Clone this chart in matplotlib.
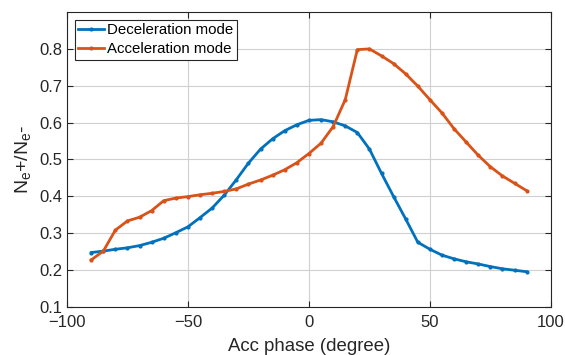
import numpy as np
import matplotlib
matplotlib.use("Agg")
import matplotlib.pyplot as plt

plt.rcParams['font.family'] = ['Liberation Sans', 'DejaVu Sans']
plt.rcParams['mathtext.fontset'] = 'custom'
plt.rcParams['mathtext.rm'] = 'Liberation Sans'
plt.rcParams['mathtext.it'] = 'Liberation Sans'

# acc phase in degrees, 5 degree steps
phase = list(range(-90, 95, 5))

decel = [0.247, 0.251, 0.256, 0.260, 0.266, 0.275, 0.286, 0.301, 0.317,
         0.342, 0.368, 0.403, 0.445, 0.490, 0.528, 0.556, 0.578, 0.594,
         0.606, 0.608, 0.602, 0.591, 0.573, 0.528, 0.462, 0.399, 0.338,
         0.275, 0.256, 0.240, 0.230, 0.222, 0.216, 0.209, 0.203, 0.199,
         0.195]

accel = [0.227, 0.251, 0.308, 0.333, 0.343, 0.361, 0.388, 0.395, 0.399,
         0.404, 0.408, 0.413, 0.420, 0.433, 0.444, 0.457, 0.472, 0.491,
         0.516, 0.544, 0.589, 0.662, 0.798, 0.800, 0.781, 0.760, 0.732,
         0.699, 0.662, 0.626, 0.583, 0.547, 0.511, 0.480, 0.455, 0.435,
         0.415]

fig = plt.figure(figsize=(5.65, 3.55), dpi=100)
ax = fig.add_axes([0.1186, 0.136, 0.8564, 0.830])

ax.plot(phase, decel, color='#0072BD', lw=2, marker='.', ms=4,
        label='Deceleration mode')
ax.plot(phase, accel, color='#D95319', lw=2, marker='.', ms=4,
        label='Acceleration mode')

ax.set_xlim(-100, 100)
ax.set_ylim(0.1, 0.9)
ax.set_xticks([-100, -50, 0, 50, 100])
ax.set_yticks(np.arange(0.1, 0.85, 0.1))
ax.set_yticklabels(['0.1', '0.2', '0.3', '0.4', '0.5', '0.6', '0.7', '0.8'])

ax.grid(True, color='#d0d0d0', lw=0.8)
ax.set_axisbelow(True)
ax.tick_params(direction='in', top=True, right=True, labelsize=12,
               length=4, width=0.8, colors='#262626', labelcolor='#262626')
ax.tick_params(axis='x', pad=6)
ax.tick_params(axis='y', pad=3.5)
for s in ax.spines.values():
    s.set_color('#262626')
    s.set_linewidth(0.8)

ax.set_xlabel('Acc phase (degree)', fontsize=13.4, color='#262626', labelpad=6)
ax.set_ylabel(r'N$_e$+/N$_e$-', fontsize=14, color='#262626', labelpad=4)

leg = ax.legend(loc='upper left', fontsize=10.8, fancybox=False,
                framealpha=1, edgecolor='#262626', borderpad=0.25,
                handlelength=1.7, handletextpad=0.2, labelspacing=0.3,
                borderaxespad=0.5)
leg.get_frame().set_linewidth(0.8)

fig.savefig('out.png', dpi=100)
